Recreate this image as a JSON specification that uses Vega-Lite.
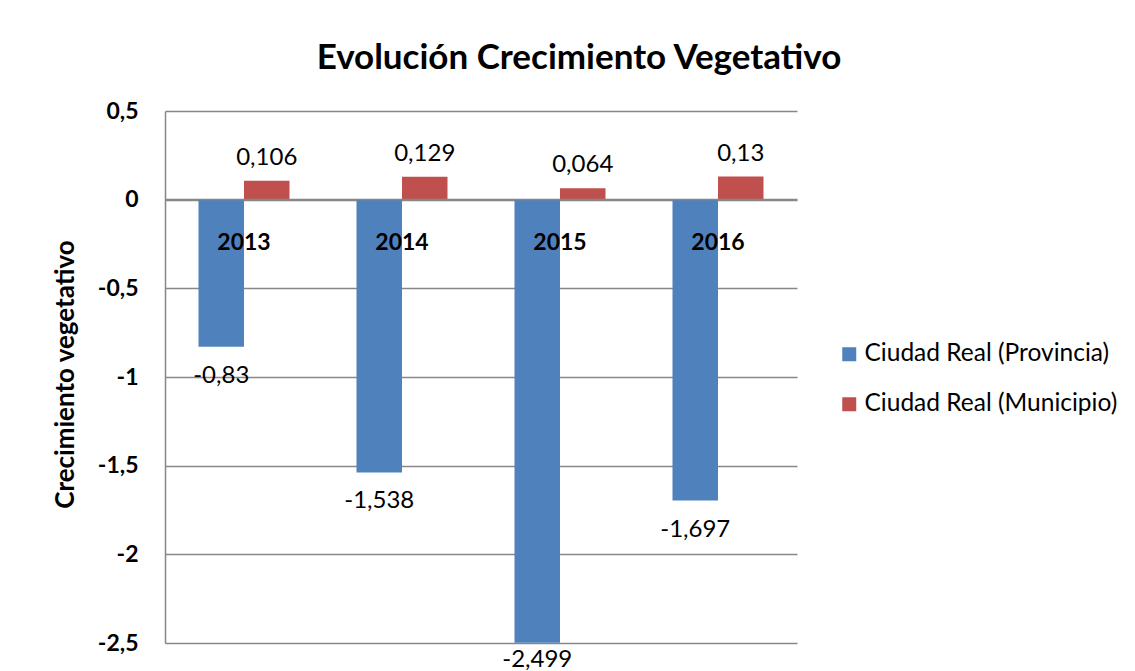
{
  "$schema": "https://vega.github.io/schema/vega-lite/v6.json",
  "width": 632,
  "height": 532,
  "autosize": {"type": "none"},
  "padding": {"left": 165, "top": 111, "right": 338, "bottom": 28},
  "background": "white",
  "config": {
    "font": "Lato",
    "view": {"stroke": null},
    "locale": {"number": {"decimal": ",", "thousands": ".", "grouping": [3], "currency": ["", " €"], "minus": "-"}}
  },
  "title": {
    "text": "Evolución Crecimiento Vegetativo",
    "fontSize": 35,
    "fontWeight": "bold",
    "font": "Lato",
    "color": "#000000",
    "anchor": "middle",
    "dx": 98,
    "offset": 24
  },
  "data": {
    "values": [
      {"year": "2013", "serie": "Ciudad Real (Provincia)", "value": -0.83},
      {"year": "2013", "serie": "Ciudad Real (Municipio)", "value": 0.106},
      {"year": "2014", "serie": "Ciudad Real (Provincia)", "value": -1.538},
      {"year": "2014", "serie": "Ciudad Real (Municipio)", "value": 0.129},
      {"year": "2015", "serie": "Ciudad Real (Provincia)", "value": -2.499},
      {"year": "2015", "serie": "Ciudad Real (Municipio)", "value": 0.064},
      {"year": "2016", "serie": "Ciudad Real (Provincia)", "value": -1.697},
      {"year": "2016", "serie": "Ciudad Real (Municipio)", "value": 0.13}
    ]
  },
  "encoding": {
    "x": {
      "field": "year",
      "type": "nominal",
      "scale": {"paddingInner": 0.424, "paddingOuter": 0.212},
      "axis": {
        "title": null,
        "orient": "bottom",
        "offset": -444,
        "labelAngle": 0,
        "labelFontSize": 23,
        "labelFontWeight": "bold",
        "labelColor": "#000000",
        "labelPadding": 32,
        "labelBaseline": "top",
        "ticks": false,
        "domainColor": "#878787",
        "domainWidth": 1.5,
        "zindex": 2
      }
    },
    "xOffset": {
      "field": "serie",
      "type": "nominal",
      "sort": ["Ciudad Real (Provincia)", "Ciudad Real (Municipio)"],
      "scale": {"paddingInner": 0, "paddingOuter": 0}
    },
    "y": {
      "field": "value",
      "type": "quantitative",
      "scale": {"domain": [-2.5, 0.5], "nice": false, "zero": false},
      "axis": {
        "title": "Crecimiento vegetativo",
        "titleFontSize": 26,
        "titleFontWeight": "bold",
        "titleColor": "#000000",
        "titleX": -100,
        "titleY": 263,
        "titleAngle": -90,
        "titleAlign": "center",
        "titleBaseline": "middle",
        "values": [-2.5, -2, -1.5, -1, -0.5, 0, 0.5],
        "format": "~g",
        "labelFontSize": 23,
        "labelFontWeight": "bold",
        "labelColor": "#000000",
        "labelPadding": 27,
        "ticks": false,
        "domainColor": "#878787",
        "domainWidth": 1.5,
        "gridColor": "#878787",
        "gridWidth": 1.5
      }
    }
  },
  "layer": [
    {
      "mark": {"type": "bar"},
      "encoding": {
        "color": {
          "field": "serie",
          "type": "nominal",
          "sort": ["Ciudad Real (Provincia)", "Ciudad Real (Municipio)"],
          "scale": {"domain": ["Ciudad Real (Provincia)", "Ciudad Real (Municipio)"], "range": ["#4F81BD", "#C0504D"]},
          "legend": {
            "title": null,
            "orient": "none",
            "legendX": 672,
            "legendY": 231,
            "symbolType": "square",
            "symbolSize": 196,
            "symbolStrokeWidth": 0,
            "labelFontSize": 24.5,
            "labelLimit": 0,
            "labelColor": "#000000",
            "labelOffset": 3,
            "rowPadding": 25
          }
        }
      }
    },
    {
      "transform": [{"filter": "datum.value >= 0"}],
      "mark": {"type": "text", "baseline": "bottom", "dy": -11, "fontSize": 24, "color": "#000000"},
      "encoding": {"text": {"field": "value", "type": "quantitative", "format": "~g"}}
    },
    {
      "transform": [{"filter": "datum.value < 0 && datum.value > -2.4"}],
      "mark": {"type": "text", "baseline": "top", "dy": 17, "fontSize": 24, "color": "#000000"},
      "encoding": {"text": {"field": "value", "type": "quantitative", "format": "~g"}}
    },
    {
      "transform": [{"filter": "datum.value <= -2.4"}],
      "mark": {"type": "text", "baseline": "top", "dy": 5, "fontSize": 24, "color": "#000000"},
      "encoding": {"text": {"field": "value", "type": "quantitative", "format": "~g"}}
    }
  ]
}
